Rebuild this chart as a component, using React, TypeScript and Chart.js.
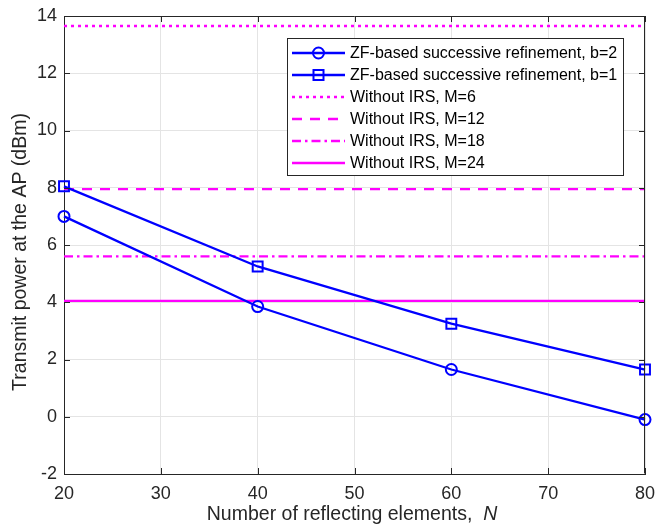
import React, { useEffect, useRef } from "react";
import { Chart, registerables } from "chart.js";

Chart.register(...registerables);

const xValues = [20, 40, 60, 80];
const zfB2 = [7.0, 3.85, 1.65, -0.1];
const zfB1 = [8.05, 5.25, 3.25, 1.65];
const xRange = [20, 80];
const noIrsM6 = 13.65;
const noIrsM12 = 7.95;
const noIrsM18 = 5.6;
const noIrsM24 = 4.05;
const labels = [
  "ZF-based successive refinement, b=2",
  "ZF-based successive refinement, b=1",
  "Without IRS, M=6",
  "Without IRS, M=12",
  "Without IRS, M=18",
  "Without IRS, M=24",
];
const xTitle = "Number of reflecting elements,  ";
const xTitleItalic = "N";
const yTitle = "Transmit power at the AP (dBm)";

const FONT = "'Liberation Sans', Arial, Helvetica, sans-serif";
const AXIS = "#262626";
const BLUE = "#0000ff";
const MAGENTA = "#ff00ff";

const flat = (v: number) => xRange.map((x) => ({ x, y: v }));

const decorPlugin = {
  id: "decor",
  afterDraw(chart: any) {
    const { ctx, chartArea: a, scales } = chart;
    const xs = scales.x;
    const ys = scales.y;
    ctx.save();
    ctx.strokeStyle = AXIS;
    ctx.lineWidth = 1;
    ctx.setLineDash([]);
    ctx.beginPath();
    ctx.moveTo(a.left + 0.5, a.top + 0.5);
    ctx.lineTo(a.right - 0.5, a.top + 0.5);
    ctx.lineTo(a.right - 0.5, a.bottom - 0.5);
    ctx.stroke();
    const tl = 6;
    ctx.beginPath();
    xs.ticks.forEach((t: any) => {
      const px = Math.round(xs.getPixelForValue(t.value)) + 0.5;
      ctx.moveTo(px, a.bottom);
      ctx.lineTo(px, a.bottom - tl);
      ctx.moveTo(px, a.top);
      ctx.lineTo(px, a.top + tl);
    });
    ys.ticks.forEach((t: any) => {
      const py = Math.round(ys.getPixelForValue(t.value)) + 0.5;
      ctx.moveTo(a.left, py);
      ctx.lineTo(a.left + tl, py);
      ctx.moveTo(a.right, py);
      ctx.lineTo(a.right - tl, py);
    });
    ctx.stroke();

    // legend
    const lx = 287, ly = 38, lw = 336, lh = 137;
    ctx.fillStyle = "#ffffff";
    ctx.fillRect(lx, ly, lw, lh);
    ctx.strokeStyle = AXIS;
    ctx.lineWidth = 1;
    ctx.strokeRect(lx + 0.5, ly + 0.5, lw, lh);
    ctx.font = `16px ${FONT}`;
    ctx.textBaseline = "middle";
    ctx.textAlign = "left";
    chart.data.datasets.forEach((ds: any, i: number) => {
      const cy = 53 + i * 22;
      ctx.strokeStyle = ds.borderColor;
      ctx.lineWidth = ds.borderWidth;
      ctx.setLineDash(ds.borderDash || []);
      ctx.beginPath();
      ctx.moveTo(292, cy);
      ctx.lineTo(345, cy);
      ctx.stroke();
      ctx.setLineDash([]);
      if (ds.pointStyle && ds.pointRadius > 0) {
        ctx.lineWidth = ds.pointBorderWidth;
        ctx.strokeStyle = ds.borderColor;
        if (ds.pointStyle === "circle") {
          ctx.beginPath();
          ctx.arc(318.5, cy, 5.5, 0, Math.PI * 2);
          ctx.stroke();
        } else {
          ctx.strokeRect(313.5, cy - 5, 10, 10);
        }
      }
      ctx.fillStyle = "#000000";
      ctx.fillText(ds.label, 350, cy + 1);
    });

    // x title
    ctx.fillStyle = AXIS;
    ctx.textBaseline = "middle";
    ctx.font = `19.5px ${FONT}`;
    const w1 = ctx.measureText(xTitle).width;
    ctx.font = `italic 19.5px ${FONT}`;
    const w2 = ctx.measureText(xTitleItalic).width;
    const sx = 352 - (w1 + w2) / 2;
    ctx.font = `19.5px ${FONT}`;
    ctx.textAlign = "left";
    ctx.fillText(xTitle, sx, 515);
    ctx.font = `italic 19.5px ${FONT}`;
    ctx.fillText(xTitleItalic, sx + w1, 515);

    // y title
    ctx.translate(21, 252);
    ctx.rotate(-Math.PI / 2);
    ctx.font = `19.5px ${FONT}`;
    ctx.textAlign = "center";
    ctx.fillText(yTitle, 0, 0);
    ctx.restore();
  },
};

export default function App() {
  const ref = useRef<HTMLCanvasElement | null>(null);
  useEffect(() => {
    if (!ref.current) return;
    const lineDs = (label: string, v: number, dash: number[]) => ({
      label,
      data: flat(v),
      borderColor: MAGENTA,
      backgroundColor: MAGENTA,
      borderWidth: 2.3,
      borderDash: dash,
      pointRadius: 0,
      pointStyle: false as any,
      fill: false,
    });
    const chart = new Chart(ref.current, {
      type: "line",
      data: {
        datasets: [
          {
            label: labels[0],
            data: xValues.map((x, i) => ({ x, y: zfB2[i] })),
            borderColor: BLUE,
            backgroundColor: "transparent",
            borderWidth: 2.3,
            pointStyle: "circle",
            pointRadius: 5.5,
            pointBorderWidth: 2,
            pointBackgroundColor: "transparent",
            pointBorderColor: BLUE,
            clip: false,
          } as any,
          {
            label: labels[1],
            data: xValues.map((x, i) => ({ x, y: zfB1[i] })),
            borderColor: BLUE,
            backgroundColor: "transparent",
            borderWidth: 2.3,
            pointStyle: "rect",
            pointRadius: 7,
            pointBorderWidth: 2,
            pointBackgroundColor: "transparent",
            pointBorderColor: BLUE,
            clip: false,
          } as any,
          lineDs(labels[2], noIrsM6, [3, 4]),
          lineDs(labels[3], noIrsM12, [10, 8]),
          lineDs(labels[4], noIrsM18, [9, 4, 2.5, 4]),
          lineDs(labels[5], noIrsM24, []),
        ],
      },
      options: {
        responsive: false,
        animation: false,
        layout: { padding: { top: 16, right: 10, left: 0, bottom: 0 } },
        plugins: { legend: { display: false }, tooltip: { enabled: false } },
        scales: {
          x: {
            type: "linear",
            min: 20,
            max: 80,
            ticks: {
              stepSize: 10,
              color: AXIS,
              font: { size: 18, family: FONT },
              padding: 9,
              maxRotation: 0,
            },
            grid: { color: "#e4e4e4", drawTicks: false },
            border: { color: AXIS, width: 1 },
            afterFit: (s: any) => {
              s.height = 53;
              s.paddingLeft = 0;
              s.paddingRight = 0;
            },
          },
          y: {
            type: "linear",
            min: -2,
            max: 14,
            ticks: {
              stepSize: 2,
              color: AXIS,
              font: { size: 18, family: FONT },
              padding: 7,
            },
            grid: { color: "#e4e4e4", drawTicks: false },
            border: { color: AXIS, width: 1 },
            afterFit: (s: any) => {
              s.width = 64;
              s.paddingTop = 0;
              s.paddingBottom = 0;
            },
          },
        },
      },
      plugins: [decorPlugin],
    });
    return () => chart.destroy();
  }, []);
  return (
    <div style={{ position: "absolute", left: 0, top: 0, width: 655, height: 527, background: "#fff" }}>
      <canvas ref={ref} width={655} height={527} style={{ display: "block" }} />
    </div>
  );
}
